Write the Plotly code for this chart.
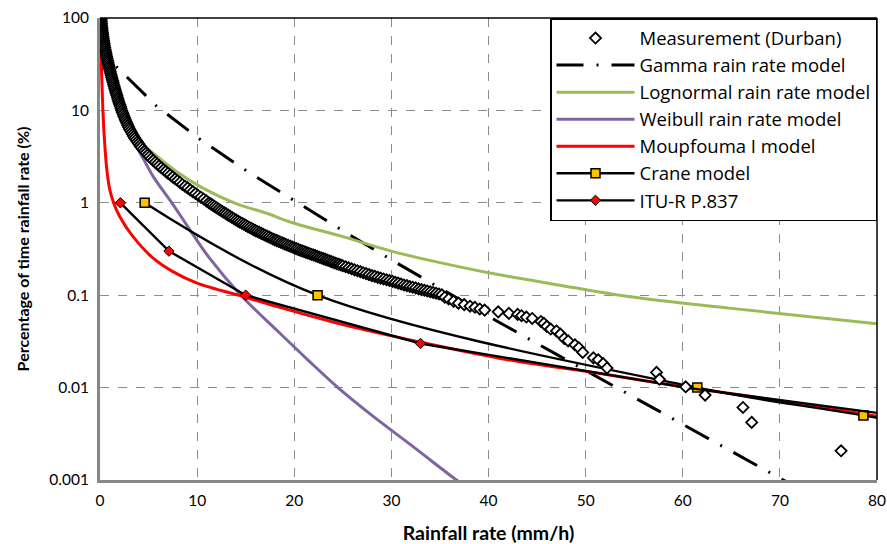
import plotly.graph_objects as go

# ---------------- data ----------------
meas_x = [0.10, 0.116, 0.132, 0.148, 0.164, 0.18, 0.204, 0.228, 0.252, 0.276, 0.30, 0.33, 0.36, 0.39, 0.42,
          0.45, 0.49, 0.53, 0.57, 0.61, 0.65, 0.69, 0.73, 0.78, 0.82, 0.86, 0.91, 0.96, 1.00, 1.05,
          1.10, 1.15, 1.20, 1.25, 1.30, 1.35, 1.40, 1.46, 1.51, 1.57, 1.62, 1.68, 1.74, 1.80, 1.85,
          1.91, 1.97, 2.04, 2.10, 2.17,
          2.23, 2.30, 2.38, 2.45, 2.53, 2.60, 2.69, 2.77, 2.86, 2.94, 3.03, 3.14, 3.25, 3.36, 3.47,
          3.58, 3.71, 3.84, 3.97, 4.10, 4.23, 4.40, 4.57, 4.74, 4.91, 5.08, 5.28, 5.48, 5.68, 5.88,
          6.08, 6.31, 6.54, 6.77, 7.00, 7.23, 7.48, 7.73, 7.98, 8.23, 8.48, 8.75, 9.02, 9.29, 9.56,
          9.83, 10.11, 10.39, 10.67, 10.95,
          11.2, 11.4, 11.6, 11.8, 12.0, 12.2, 12.4, 12.6, 12.8, 13.0, 13.2, 13.4, 13.6, 13.8, 14.0,
          14.2, 14.4, 14.6, 14.8, 15.0, 15.2, 15.4, 15.6, 15.8, 16.0, 16.2, 16.4, 16.6, 16.8, 17.0,
          17.2, 17.4, 17.6, 17.8, 18.0, 18.2, 18.4, 18.6, 18.8, 19.0, 19.2, 19.4, 19.6, 19.8, 20.0,
          20.2, 20.4, 20.6, 20.8, 21.0, 21.2, 21.4, 21.6, 21.8, 22.0, 22.2, 22.4, 22.6, 22.8, 23.0,
          23.2, 23.4, 23.6, 23.8, 24.0, 24.2, 24.4, 24.6, 24.8, 25.0,
          25.3, 25.6, 25.9, 26.2, 26.5, 26.8, 27.1, 27.4, 27.7, 28.0, 28.3, 28.6, 28.9, 29.2, 29.5,
          29.8, 30.1, 30.4, 30.7, 31.0, 31.3, 31.6, 31.9, 32.2, 32.5, 32.8, 33.1, 33.4, 33.7, 34.0,
          34.3, 34.6, 34.9, 35.2,
          35.5, 35.9, 36.4, 36.9, 37.5, 38.1, 38.6, 39.1, 39.6, 41.0, 42.1, 43.0, 43.4, 43.9, 44.5,
          45.4, 45.7, 46.0, 46.4, 47.0, 47.4, 47.8, 48.2, 48.9, 49.3, 49.7, 50.8, 51.3, 51.8, 52.2,
          57.3, 57.6, 60.3, 62.3, 66.2, 67.1, 76.3]
meas_y = [100, 95.5, 91.2, 87.1, 83.2, 79.4, 75.9, 72.4, 69.2, 66.1, 63.1, 60.3, 57.5, 55.0, 52.5,
          50.1, 47.9, 45.7, 43.7, 41.7, 39.8, 38.0, 36.3, 34.7, 33.1, 31.6, 30.2, 28.8, 27.5, 26.3,
          25.1, 24.0, 22.9, 21.9, 20.9, 20.0, 19.1, 18.2, 17.4, 16.6, 15.8, 15.1, 14.5, 13.8, 13.2,
          12.6, 12.0, 11.5, 11.0, 10.5,
          10.0, 9.55, 9.12, 8.71, 8.32, 7.94, 7.59, 7.24, 6.92, 6.61, 6.31, 6.03, 5.75, 5.50, 5.25,
          5.01, 4.79, 4.57, 4.37, 4.17, 3.98, 3.80, 3.63, 3.47, 3.31, 3.16, 3.02, 2.88, 2.75, 2.63,
          2.51, 2.40, 2.29, 2.19, 2.09, 2.00, 1.91, 1.82, 1.74, 1.66, 1.58, 1.51, 1.45, 1.38, 1.32,
          1.26, 1.20, 1.15, 1.10, 1.05,
          1.00, 0.973, 0.943, 0.913, 0.885, 0.857, 0.830, 0.804, 0.780, 0.758, 0.735, 0.714, 0.693, 0.673, 0.653,
          0.634, 0.617, 0.601, 0.585, 0.570, 0.555, 0.541, 0.527, 0.513, 0.500, 0.489, 0.478, 0.467, 0.456, 0.446,
          0.436, 0.426, 0.416, 0.406, 0.397, 0.390, 0.382, 0.374, 0.367, 0.359, 0.352, 0.345, 0.339, 0.332, 0.325,
          0.319, 0.313, 0.307, 0.302, 0.297, 0.291, 0.286, 0.281, 0.276, 0.272, 0.267, 0.262, 0.257, 0.253, 0.249,
          0.244, 0.240, 0.236, 0.231, 0.227, 0.223, 0.219, 0.216, 0.212, 0.208,
          0.203, 0.198, 0.193, 0.188, 0.184, 0.180, 0.175, 0.171, 0.167, 0.163, 0.160, 0.156, 0.153, 0.150, 0.147,
          0.144, 0.141, 0.138, 0.135, 0.132, 0.129, 0.127, 0.124, 0.122, 0.120, 0.117, 0.115, 0.113, 0.111, 0.109,
          0.107, 0.105, 0.103, 0.101,
          0.095, 0.091, 0.086, 0.082, 0.079, 0.076, 0.074, 0.071, 0.069, 0.066, 0.0635, 0.062, 0.060, 0.058, 0.056,
          0.052, 0.0496, 0.046, 0.043, 0.041, 0.038, 0.034, 0.032, 0.029, 0.027, 0.024, 0.021, 0.020, 0.0182, 0.0163,
          0.0146, 0.0123, 0.0102, 0.0083, 0.0061, 0.0042, 0.00207]

gamma_x = [-1.07, 1.65, 5.8, 10.3, 15.3, 19.05, 25.4, 30.5, 35.6, 40.8, 46.5, 52.7, 57.9, 63.1, 68.3, 72.0]
gamma_y = [63, 30, 11.2, 4.86, 2.14, 1.21, 0.47, 0.225, 0.109, 0.053, 0.0245, 0.0107, 0.0053, 0.00266, 0.00132, 0.00080]

logn_x = [0.1, 0.5, 1.1, 2.2, 3.2, 4.3, 5.5, 7.9, 10.6, 14, 17, 20, 25, 30, 35, 40, 47, 54.6, 65, 80]
logn_y = [100, 55, 28, 11, 6.2, 4.4, 3.43, 2.17, 1.44, 0.98, 0.78, 0.60, 0.43, 0.30, 0.225, 0.175, 0.13, 0.096, 0.072, 0.049]

weib_x = [0.1, 0.5, 1.1, 2.2, 3.0, 3.6, 4.5, 5.5, 7.4, 9.2, 11.3, 14.5, 18.5, 21.5, 24.5, 28, 32, 36.7, 38]
weib_y = [100, 55, 28, 10.5, 6.4, 4.4, 2.95, 1.91, 1.0, 0.52, 0.25, 0.1, 0.039, 0.0195, 0.0100, 0.0050, 0.0024, 0.001, 0.0008]

moup_x = [0.1, 0.2, 0.3, 0.45, 0.7, 1.0, 1.4, 2.0, 3.4, 5.5, 7.5, 10, 15, 18.5, 25, 33, 42, 51.5, 60, 70, 80]
moup_y = [40, 20, 10, 5, 2.3, 1.4, 1.0, 0.72, 0.43, 0.25, 0.18, 0.135, 0.095, 0.074, 0.048, 0.031, 0.020, 0.0142, 0.0102, 0.0072, 0.0049]

crane_x = [4.6, 22.4, 61.5, 78.6, 118]
crane_y = [1, 0.1, 0.01, 0.005, 0.001]

itu_x = [2.1, 7.1, 15, 33, 60.3, 98]
itu_y = [1, 0.3, 0.1, 0.03, 0.01, 0.003]

y_tickvals = [0.001, 0.01, 0.1, 1, 10, 100]
y_ticktext = ["0.001", "0.01", "0.1", "1", "10", "100"]
x_tickvals = [0, 10, 20, 30, 40, 50, 60, 70, 80]

FONT = "Lato"
LEG_FONT = "Open Sans"

fig = go.Figure()

fig.add_trace(go.Scatter(x=gamma_x, y=gamma_y, mode="lines", name="Gamma rain rate model",
                         line=dict(color="black", width=3, dash="27px,13px,2px,13px"), legendrank=2))
fig.add_trace(go.Scatter(x=logn_x, y=logn_y, mode="lines", name="Lognormal rain rate model",
                         line=dict(color="#9BBB59", width=3, shape="spline"), legendrank=3))
fig.add_trace(go.Scatter(x=weib_x, y=weib_y, mode="lines", name="Weibull rain rate model",
                         line=dict(color="#8064A2", width=3, shape="spline"), legendrank=4))
fig.add_trace(go.Scatter(x=moup_x, y=moup_y, mode="lines", name="Moupfouma I model",
                         line=dict(color="#FF0000", width=3, shape="spline"), legendrank=5))
fig.add_trace(go.Scatter(x=crane_x, y=crane_y, mode="lines+markers", name="Crane model",
                         line=dict(color="black", width=2.4, shape="spline"),
                         marker=dict(symbol="square", size=9, color="#FFC000",
                                     line=dict(color="black", width=1.5)), legendrank=6))
fig.add_trace(go.Scatter(x=itu_x, y=itu_y, mode="lines+markers", name="ITU-R P.837",
                         line=dict(color="black", width=2.4),
                         marker=dict(symbol="diamond", size=8, color="#FF0000",
                                     line=dict(color="black", width=1)), legendrank=7))
fig.add_trace(go.Scatter(x=meas_x, y=meas_y, mode="markers", name="Measurement (Durban)",
                         marker=dict(symbol="diamond", size=8.5, color="white",
                                     line=dict(color="black", width=1.8)), legendrank=1))

fig.update_layout(
    width=887, height=544,
    margin=dict(l=100, r=10, t=18, b=64, autoexpand=False),
    paper_bgcolor="white", plot_bgcolor="white",
    font=dict(family=FONT, size=15.5, color="black"),
    showlegend=True,
    legend=dict(x=1, y=1, xanchor="right", yanchor="top",
                bgcolor="white", bordercolor="black", borderwidth=1.5,
                font=dict(family=LEG_FONT, size=18.5, color="black"),
                itemwidth=78, tracegroupgap=0),
    shapes=[
        dict(type="line", xref="paper", yref="paper", x0=0, x1=1, y0=1, y1=1,
             line=dict(color="black", width=1.5), layer="above"),
        dict(type="line", xref="paper", yref="paper", x0=1, x1=1, y0=0, y1=1,
             line=dict(color="black", width=1.5), layer="above"),
    ],
)

fig.update_xaxes(range=[0, 80], tickvals=x_tickvals, showline=True, linecolor="#878787", linewidth=3,
                 showgrid=True, gridcolor="#8c8c8c", gridwidth=1.3, griddash="dash",
                 zeroline=False, ticks="", tickfont=dict(family=FONT, size=15.5), automargin=False,
                 ticklabelstandoff=4,
                 title=dict(text="<b>Rainfall rate (mm/h)</b>", font=dict(family=FONT, size=19.5), standoff=25))
fig.update_yaxes(type="log", range=[-3, 2], tickvals=y_tickvals, ticktext=y_ticktext,
                 showline=True, linecolor="#878787", linewidth=3,
                 showgrid=True, gridcolor="#8c8c8c", gridwidth=1.3, griddash="dash",
                 zeroline=False, ticks="", tickfont=dict(family=FONT, size=15.5), automargin=False,
                 ticklabelstandoff=5,
                 title=dict(text="<b>Percentage of time rainfall rate (%)</b>", font=dict(family=FONT, size=16), standoff=16))

fig.write_html("out.html")
